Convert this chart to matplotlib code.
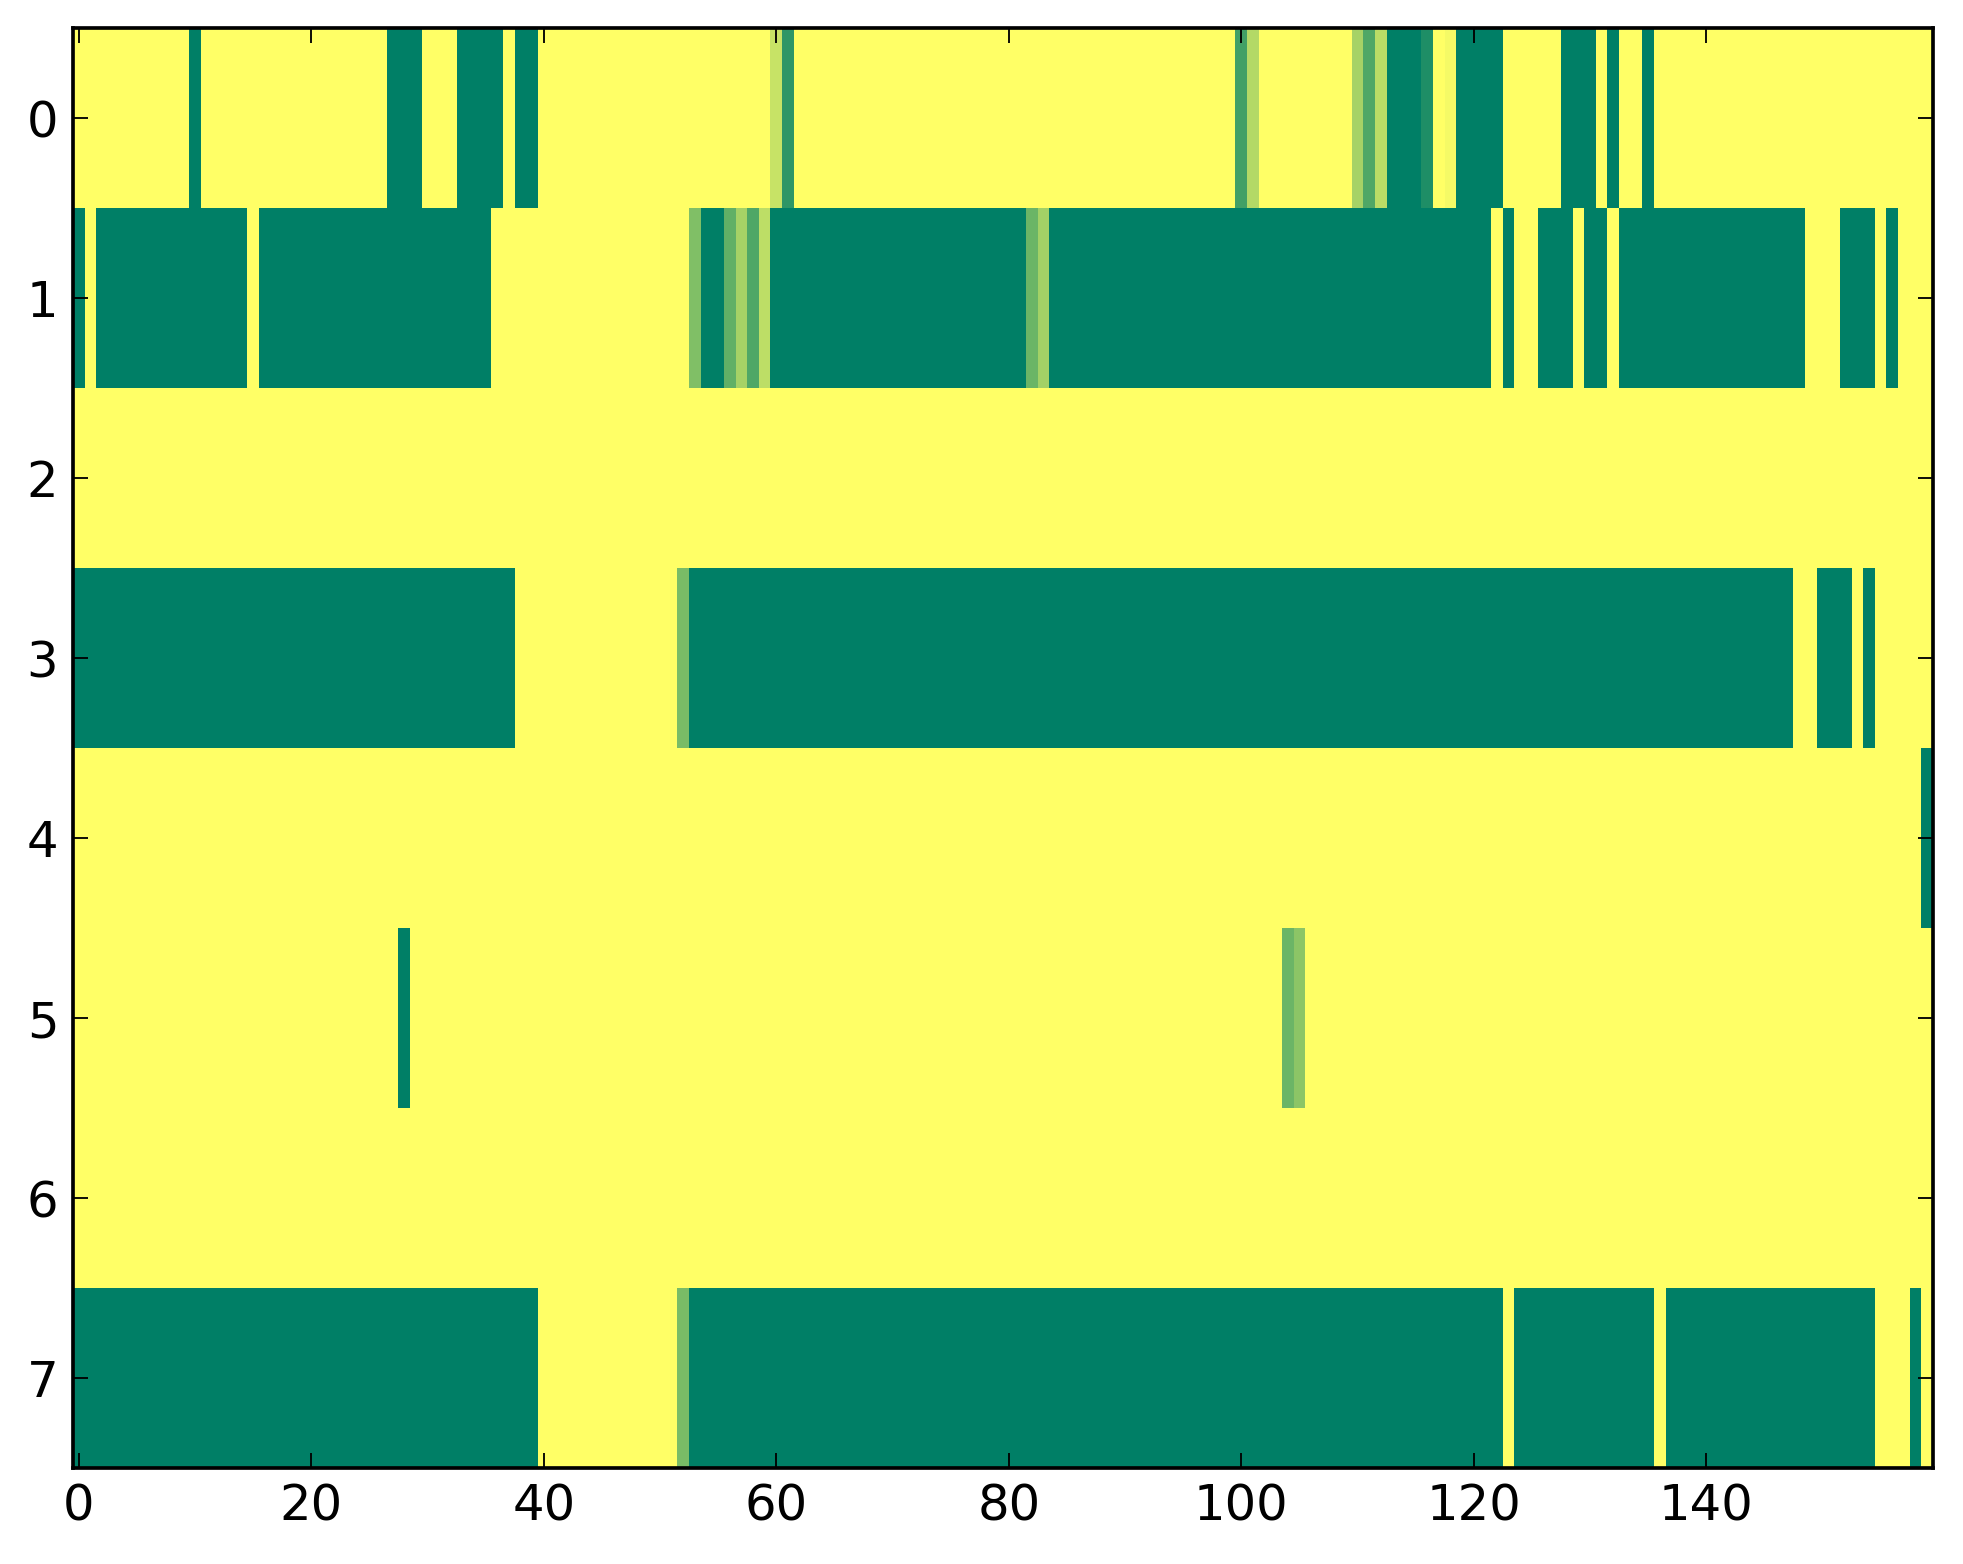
import numpy as np
import matplotlib
matplotlib.use("Agg")
import matplotlib.pyplot as plt

# Each row given as (value, run length) segments
row0 = [(1, 10), (0, 1), (1, 16), (0, 3), (1, 3), (0, 4), (1, 1), (0, 2), (1, 20),
        (0.78, 1), (0.18, 1), (1, 38), (0.26, 1), (0.70, 1), (1, 8), (0.65, 1),
        (0.31, 1), (0.73, 1), (0, 3), (0.12, 1), (1, 1), (0.96, 1), (0, 4), (1, 5),
        (0, 3), (1, 1), (0, 1), (1, 2), (0, 1), (1, 24)]
row1 = [(0, 1), (1, 1), (0, 13), (1, 1), (0, 20), (1, 17), (0.50, 1), (0, 2),
        (0.38, 1), (0.65, 1), (0.31, 1), (0.74, 1), (0, 22), (0.42, 1), (0.64, 1),
        (0, 38), (1, 1), (0, 1), (1, 2), (0, 3), (1, 1), (0, 2), (1, 1), (0, 16),
        (1, 3), (0, 3), (1, 1), (0, 1), (1, 3)]
row2 = [(1, 160)]
row3 = [(0, 38), (1, 14), (0.48, 1), (0, 95), (1, 2), (0, 3), (1, 1), (0, 1), (1, 5)]
row4 = [(1, 159), (0, 1)]
row5 = [(1, 28), (0, 1), (1, 75), (0.42, 1), (0.55, 1), (1, 54)]
row6 = [(1, 160)]
row7 = [(0, 40), (1, 12), (0.48, 1), (0, 70), (1, 1), (0, 12), (1, 1), (0, 18),
        (1, 3), (0, 1), (1, 1)]

rows = [row0, row1, row2, row3, row4, row5, row6, row7]
xticks = [0, 20, 40, 60, 80, 100, 120, 140]
yticks = [0, 1, 2, 3, 4, 5, 6, 7]


def expand(segs):
    vals = [v for v, n in segs]
    counts = [n for v, n in segs]
    return np.repeat(vals, counts)


matrix = np.vstack([expand(r) for r in rows])

dpi = 265
fig = plt.figure(figsize=(1963 / dpi, 1564 / dpi), dpi=dpi, facecolor="white")
ax = fig.add_axes([73 / 1963, 1 - 1468 / 1564, (1933 - 73) / 1963, (1468 - 28) / 1564])
ax.imshow(matrix, cmap="summer", aspect="auto", interpolation="nearest",
          vmin=0, vmax=1)

ax.set_xticks(xticks)
ax.set_yticks(yticks)
ax.tick_params(axis="both", which="major", direction="in", length=4, width=0.5,
               labelsize=13.5, top=True, right=True, pad=4, colors="black")
for s in ax.spines.values():
    s.set_linewidth(1.0)
    s.set_color("black")
for lab in ax.get_xticklabels() + ax.get_yticklabels():
    lab.set_fontfamily("DejaVu Sans")

fig.savefig("out.png", dpi=dpi, facecolor="white")
